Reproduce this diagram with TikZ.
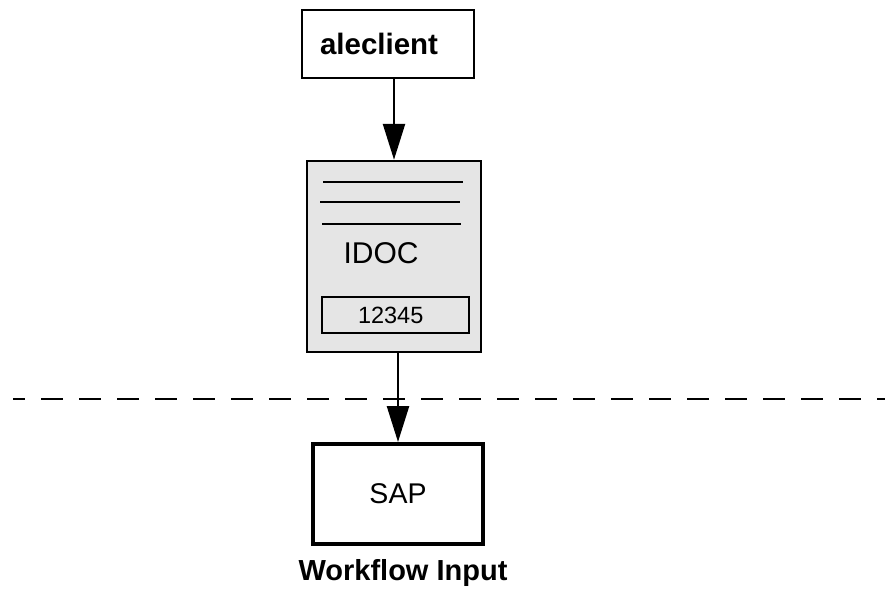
\documentclass[tikz,border=0pt]{standalone}
\usepackage{fontspec}
\setmainfont{Liberation Sans}
\usetikzlibrary{arrows.meta}

\begin{document}
\begin{tikzpicture}[x=1pt, y=-1pt,
        box/.style={draw, line width=2.5pt, rectangle},
        arr/.style={line width=2.5pt, -{Triangle[length=36pt, width=22pt]}}]
        \useasboundingbox (0, 0) rectangle (885, 592);

        \node[box, minimum width=172pt, minimum height=68pt, text width=136pt, align=left, inner xsep=18pt, font=\fontsize{29.5}{32}\selectfont\bfseries] (aleclient) at (388, 44) {aleclient};

        \node[box, fill=black!10, minimum width=174pt, minimum height=191pt] (idoc) at (394, 256.5) {};
        \draw[line width=2.5pt] (323, 182) -- (463, 182);
        \draw[line width=2.5pt] (320, 202) -- (460, 202);
        \draw[line width=2.5pt] (322, 224) -- (461, 224);
        \node[font=\fontsize{30}{32}\selectfont] (idoctext) at (381, 253) {IDOC};
        \node[box, minimum height=36pt, text width=75pt, align=left, inner xsep=36pt, font=\fontsize{23.5}{26}\selectfont] (number) at (395.5, 315) {12345};

        \node[box, line width=4pt, minimum width=170pt, minimum height=100pt, font=\fontsize{28.5}{30}\selectfont] (sap) at (398, 494) {SAP};
        \node[font=\fontsize{29}{32}\selectfont\bfseries] (label) at (403, 573) {Workflow Input};

        \coordinate (left) at (13, 399);
        \coordinate (right) at (885, 399);
        \draw[line width=2.5pt, dash pattern=on 22pt off 16pt, dash phase=10pt] (left) -- (right);

        \draw[arr] (aleclient.south -| idoc.north) -- (idoc.north);
        \draw[arr] (idoc.south -| sap.north) -- (sap.north);
    \end{tikzpicture}
\end{document}
